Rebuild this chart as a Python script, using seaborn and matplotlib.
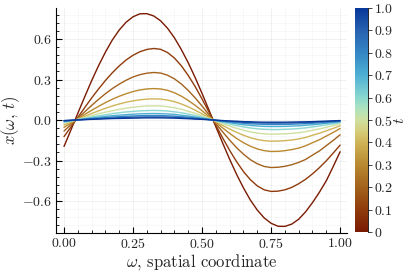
import numpy as np
import pandas as pd
import matplotlib
matplotlib.use("Agg")
import matplotlib.pyplot as plt
from matplotlib.colors import LinearSegmentedColormap, Normalize
from matplotlib.ticker import FixedLocator, FixedFormatter, MultipleLocator
import seaborn as sns

# ---- data ----
omega = [0.000, 0.025, 0.050, 0.075, 0.100, 0.125, 0.150, 0.175, 0.200, 0.225,
         0.250, 0.275, 0.300, 0.325, 0.350, 0.375, 0.400, 0.425, 0.450, 0.475,
         0.500, 0.525, 0.550, 0.575, 0.600, 0.625, 0.650, 0.675, 0.700, 0.725,
         0.750, 0.775, 0.800, 0.825, 0.850, 0.875, 0.900, 0.925, 0.950, 0.975, 1.000]
t_values = [0.0, 0.1, 0.2, 0.3, 0.4, 0.5, 0.6, 0.7, 0.8, 0.9, 1.0]

x_t00 = [-0.196, -0.074, 0.050, 0.172, 0.291, 0.402, 0.503, 0.593, 0.667, 0.725,
         0.765, 0.787, 0.788, 0.771, 0.735, 0.680, 0.609, 0.522, 0.424, 0.315,
         0.197, 0.074, -0.050, -0.172, -0.291, -0.402, -0.503, -0.593, -0.667, -0.725,
         -0.765, -0.787, -0.788, -0.771, -0.735, -0.680, -0.612, -0.535, -0.450, -0.345, -0.235]
x_t01 = [-0.123, -0.052, 0.020, 0.092, 0.163, 0.230, 0.293, 0.350, 0.401, 0.445,
         0.480, 0.506, 0.523, 0.530, 0.524, 0.500, 0.459, 0.402, 0.330, 0.248,
         0.156, 0.059, -0.039, -0.134, -0.225, -0.308, -0.382, -0.442, -0.488, -0.517,
         -0.529, -0.527, -0.517, -0.499, -0.472, -0.439, -0.399, -0.353, -0.302, -0.245, -0.186]
x_t02 = [-0.082, -0.034, 0.013, 0.061, 0.108, 0.153, 0.195, 0.233, 0.266, 0.295,
         0.319, 0.336, 0.347, 0.352, 0.348, 0.332, 0.305, 0.267, 0.219, 0.164,
         0.104, 0.039, -0.026, -0.089, -0.149, -0.205, -0.253, -0.294, -0.324, -0.344,
         -0.352, -0.350, -0.343, -0.331, -0.314, -0.292, -0.260, -0.229, -0.190, -0.151, -0.109]
x_t03 = [-0.054, -0.023, 0.009, 0.041, 0.072, 0.101, 0.129, 0.154, 0.176, 0.195,
         0.211, 0.223, 0.230, 0.233, 0.230, 0.220, 0.202, 0.177, 0.145, 0.109,
         0.069, 0.026, -0.017, -0.059, -0.099, -0.136, -0.168, -0.194, -0.214, -0.227,
         -0.233, -0.232, -0.227, -0.219, -0.208, -0.191, -0.168, -0.146, -0.119, -0.092, -0.063]
x_t04 = [-0.037, -0.015, 0.006, 0.027, 0.048, 0.068, 0.087, 0.104, 0.119, 0.132,
         0.142, 0.150, 0.155, 0.157, 0.155, 0.148, 0.136, 0.119, 0.098, 0.073,
         0.046, 0.018, -0.011, -0.040, -0.067, -0.091, -0.113, -0.131, -0.144, -0.153,
         -0.157, -0.156, -0.153, -0.148, -0.140, -0.129, -0.113, -0.098, -0.080, -0.062, -0.042]
x_t05 = [-0.024, -0.010, 0.004, 0.018, 0.032, 0.046, 0.058, 0.069, 0.079, 0.088,
         0.095, 0.100, 0.104, 0.105, 0.104, 0.099, 0.091, 0.080, 0.065, 0.049,
         0.031, 0.012, -0.008, -0.027, -0.045, -0.061, -0.076, -0.088, -0.097, -0.102,
         -0.105, -0.104, -0.102, -0.099, -0.094, -0.086, -0.076, -0.066, -0.054, -0.041, -0.028]
x_t06 = [-0.017, -0.007, 0.003, 0.012, 0.022, 0.031, 0.039, 0.047, 0.054, 0.060,
         0.064, 0.068, 0.070, 0.071, 0.070, 0.067, 0.061, 0.054, 0.044, 0.033,
         0.021, 0.008, -0.005, -0.018, -0.030, -0.041, -0.051, -0.059, -0.065, -0.069,
         -0.071, -0.071, -0.069, -0.067, -0.063, -0.058, -0.051, -0.044, -0.036, -0.028, -0.019]
x_t07 = [-0.011, -0.005, 0.002, 0.008, 0.015, 0.021, 0.027, 0.032, 0.036, 0.040,
         0.043, 0.046, 0.047, 0.048, 0.047, 0.045, 0.042, 0.036, 0.030, 0.022,
         0.014, 0.005, -0.004, -0.012, -0.020, -0.028, -0.035, -0.040, -0.044, -0.047,
         -0.048, -0.048, -0.047, -0.045, -0.043, -0.039, -0.035, -0.030, -0.024, -0.019, -0.013]
x_t08 = [-0.008, -0.003, 0.001, 0.006, 0.010, 0.014, 0.018, 0.022, 0.025, 0.028,
         0.030, 0.032, 0.033, 0.033, 0.033, 0.031, 0.029, 0.025, 0.021, 0.015,
         0.010, 0.004, -0.002, -0.008, -0.014, -0.019, -0.024, -0.028, -0.030, -0.032,
         -0.033, -0.033, -0.032, -0.031, -0.029, -0.027, -0.024, -0.021, -0.017, -0.013, -0.009]
x_t09 = [-0.005, -0.002, 0.001, 0.004, 0.007, 0.010, 0.013, 0.015, 0.017, 0.019,
         0.021, 0.022, 0.023, 0.023, 0.023, 0.022, 0.020, 0.017, 0.014, 0.011,
         0.007, 0.003, -0.002, -0.006, -0.010, -0.013, -0.017, -0.019, -0.021, -0.022,
         -0.023, -0.023, -0.022, -0.022, -0.020, -0.019, -0.017, -0.014, -0.012, -0.009, -0.006]
x_t10 = [-0.004, -0.002, 0.001, 0.003, 0.005, 0.007, 0.009, 0.011, 0.012, 0.013,
         0.014, 0.015, 0.016, 0.016, 0.016, 0.015, 0.014, 0.012, 0.010, 0.007,
         0.005, 0.002, -0.001, -0.004, -0.007, -0.009, -0.012, -0.013, -0.015, -0.016,
         -0.016, -0.016, -0.016, -0.015, -0.014, -0.013, -0.012, -0.010, -0.008, -0.006, -0.004]
series = [x_t00, x_t01, x_t02, x_t03, x_t04, x_t05, x_t06, x_t07, x_t08, x_t09, x_t10]

x_ticks = [0.00, 0.25, 0.50, 0.75, 1.00]
x_ticklabels = ["0.00", "0.25", "0.50", "0.75", "1.00"]
y_ticks = [-0.6, -0.3, 0.0, 0.3, 0.6]
y_ticklabels = ["-0.6", "-0.3", "0.0", "0.3", "0.6"]
cb_ticks = [0.0, 0.1, 0.2, 0.3, 0.4, 0.5, 0.6, 0.7, 0.8, 0.9, 1.0]
cb_ticklabels = ["0", "0.1", "0.2", "0.3", "0.4", "0.5", "0.6", "0.7", "0.8", "0.9", "1.0"]

# ---- style ----
sns.set_style("white")
plt.rcParams["font.family"] = ["serif"]
plt.rcParams["font.serif"] = ["cmr10", "DejaVu Serif"]
plt.rcParams["mathtext.fontset"] = "cm"
plt.rcParams["axes.formatter.use_mathtext"] = True

roma_like = LinearSegmentedColormap.from_list("roma_like", [
    (0.00, "#7a1a02"), (0.10, "#8f3c0c"), (0.20, "#a3621c"), (0.30, "#b9892f"),
    (0.40, "#cfb457"), (0.45, "#d6cd7a"), (0.50, "#cfe0a0"), (0.55, "#b0e3be"),
    (0.60, "#8ad8cf"), (0.70, "#4fb0d4"), (0.80, "#3487c4"), (0.90, "#2862b0"),
    (1.00, "#07389a")])

rows = []
for t, xs in zip(t_values, series):
    for w, v in zip(omega, xs):
        rows.append({"omega": w, "x": v, "t": t})
df = pd.DataFrame(rows)

fig = plt.figure(figsize=(4.07, 2.71), dpi=100)
ax = fig.add_axes([56/407, 1-233/271, 291/407, 225/271])
cax = fig.add_axes([355/407, 1-232/271, 13/407, 224/271])

norm = Normalize(0, 1)
sns.lineplot(data=df, x="omega", y="x", hue="t", palette=roma_like, hue_norm=norm,
             legend=False, estimator=None, sort=False, lw=1.0, ax=ax, units="t")

ax.set_xlim(-0.029, 1.025)
ax.set_ylim(-0.837, 0.830)

ax.xaxis.set_major_locator(FixedLocator(x_ticks))
ax.xaxis.set_major_formatter(FixedFormatter([f"${s}$" for s in x_ticklabels]))
ax.yaxis.set_major_locator(FixedLocator(y_ticks))
ax.yaxis.set_major_formatter(FixedFormatter([f"${s}$" for s in y_ticklabels]))
ax.xaxis.set_minor_locator(MultipleLocator(0.05))
ax.yaxis.set_minor_locator(MultipleLocator(0.06))

ax.tick_params(which="major", direction="in", length=4, width=0.8, labelsize=10,
               color="black", pad=3)
ax.tick_params(which="minor", direction="in", length=2, width=0.6, color="black")
ax.tick_params(bottom=True, left=True, top=False, right=False, which="both")

ax.grid(True, which="major", color="black", alpha=0.08, lw=0.5)
ax.grid(True, which="minor", color="black", alpha=0.04, lw=0.5)
for s in ["top", "right"]:
    ax.spines[s].set_visible(False)
for s in ["left", "bottom"]:
    ax.spines[s].set_color("black")
    ax.spines[s].set_linewidth(0.8)

ax.set_xlabel(r"$\omega$, spatial coordinate", fontsize=12, labelpad=1)
ax.set_ylabel(r"$x(\omega,\, t)$", fontsize=12, labelpad=0)

sm = plt.cm.ScalarMappable(norm=norm, cmap=roma_like)
cb = fig.colorbar(sm, cax=cax)
cb.outline.set_visible(False)
cb.set_ticks(cb_ticks)
cb.set_ticklabels([f"${s}$" for s in cb_ticklabels])
cax.tick_params(direction="out", length=3, width=0.6, labelsize=10, pad=1)
cax.spines["right"].set_visible(True)
cax.spines["right"].set_color("black")
cax.spines["right"].set_linewidth(0.6)
cb.set_label(r"$t$", fontsize=11)
cax.yaxis.label.set_horizontalalignment("center")
cax.yaxis.label.set_verticalalignment("center")
cax.yaxis.set_label_coords(3.5, 0.5)

fig.savefig("out.png", dpi=100)
